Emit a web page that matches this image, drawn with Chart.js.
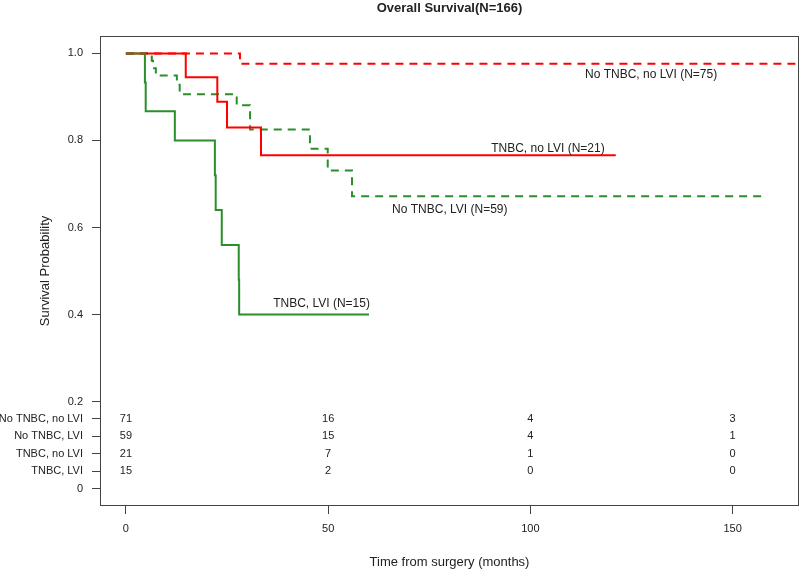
<!DOCTYPE html>
<html>
<head>
<meta charset="utf-8">
<script src="https://cdn.jsdelivr.net/npm/chart.js@4.4.0/dist/chart.umd.min.js"></script>
<style>
    html, body { margin: 0; padding: 0; background: #fff; }
</style>
</head>
<body>
<canvas id="km" width="800" height="570"></canvas>
<script>
// ==============================================================
// Kaplan-Meier curves (time in months, survival probability)
// ==============================================================
const tnbcLviTime = [0, 4.7, 4.9, 12.1, 22.0, 22.2, 23.7, 27.9, 28.0, 60.1];
const tnbcLviSurv = [1, 0.933, 0.867, 0.8, 0.72, 0.64, 0.56, 0.48, 0.40, 0.40];

const tnbcNoLviTime = [0, 14.8, 22.6, 25.0, 33.4, 121.1];
const tnbcNoLviSurv = [1, 0.945, 0.889, 0.83, 0.766, 0.766];

const noTnbcNoLviTime = [0, 28.2, 166.4];
const noTnbcNoLviSurv = [1, 0.976, 0.976];

const noTnbcLviTime = [0, 6.4, 6.7, 7.4, 12.6, 13.3, 27.4, 30.7, 45.5, 49.9, 55.9, 157.2];
const noTnbcLviSurv = [1, 0.983, 0.966, 0.949, 0.928, 0.906, 0.881, 0.825, 0.781, 0.731, 0.672, 0.672];

// number at risk table
const riskTimes = [0, 50, 100, 150];
const groupNames = ['No TNBC, no LVI', 'No TNBC, LVI', 'TNBC, no LVI', 'TNBC, LVI'];
const groupRows = [0.16, 0.12, 0.08, 0.04];
const riskNoTnbcNoLvi = [71, 16, 4, 3];
const riskNoTnbcLvi = [59, 15, 4, 1];
const riskTnbcNoLvi = [21, 7, 1, 0];
const riskTnbcLvi = [15, 2, 0, 0];

// axis ticks
const xTicks = [0, 50, 100, 150];
const yTicks = [0, 0.2, 0.4, 0.6, 0.8, 1.0];

const RED = '#ff0000';
const GREEN = '#2a8f2a';
const FONT = '"Liberation Sans", Arial, sans-serif';

function toPoints(t, s) {
    return t.map(function (v, i) { return {x: v, y: s[i]}; });
}

function rowLabel(value) {
    for (let i = 0; i < groupRows.length; i++) {
        if (Math.abs(groupRows[i] - value) < 1e-6) return groupNames[i];
    }
    return value === 0 ? '0' : value.toFixed(1);
}

// box, title, curve labels and risk numbers
const kmExtras = {
    id: 'kmExtras',
    afterDraw(chart) {
        const ctx = chart.ctx;
        const a = chart.chartArea;
        const x = chart.scales.x, y = chart.scales.y;
        ctx.save();
        ctx.strokeStyle = '#444';
        ctx.lineWidth = 1;
        ctx.strokeRect(a.left + 0.5, a.top + 0.5, a.right - a.left - 1, a.bottom - a.top - 1);

        ctx.fillStyle = '#222';
        ctx.textAlign = 'center';
        ctx.textBaseline = 'middle';
        ctx.font = 'bold 13px ' + FONT;
        ctx.fillText('Overall Survival(N=166)', (a.left + a.right) / 2, 8);

        ctx.font = '11px ' + FONT;
        const risk = [riskNoTnbcNoLvi, riskNoTnbcLvi, riskTnbcNoLvi, riskTnbcLvi];
        risk.forEach(function (row, i) {
            row.forEach(function (n, j) {
                ctx.fillText(String(n), x.getPixelForValue(riskTimes[j]), y.getPixelForValue(groupRows[i]));
            });
        });

        ctx.textAlign = 'left';
        ctx.font = '12px ' + FONT;
        const labels = [
            ['No TNBC, no LVI (N=75)', 113.5, 0.952],
            ['TNBC, no LVI (N=21)', 90.3, 0.782],
            ['No TNBC, LVI (N=59)', 65.8, 0.641],
            ['TNBC, LVI (N=15)', 36.4, 0.425]
        ];
        labels.forEach(function (l) {
            ctx.fillText(l[0], x.getPixelForValue(l[1]), y.getPixelForValue(l[2]));
        });
        ctx.restore();
    }
};

Chart.defaults.font.family = FONT;
Chart.defaults.color = '#222';

new Chart(document.getElementById('km').getContext('2d'), {
    type: 'line',
    data: {
        datasets: [{
            label: 'TNBC, LVI',
            data: toPoints(tnbcLviTime, tnbcLviSurv),
            borderColor: GREEN
        }, {
            label: 'TNBC, no LVI',
            data: toPoints(tnbcNoLviTime, tnbcNoLviSurv),
            borderColor: RED
        }, {
            label: 'No TNBC, no LVI',
            data: toPoints(noTnbcNoLviTime, noTnbcNoLviSurv),
            borderColor: RED,
            borderDash: [8, 6]
        }, {
            label: 'No TNBC, LVI',
            data: toPoints(noTnbcLviTime, noTnbcLviSurv),
            borderColor: GREEN,
            borderDash: [8, 6]
        }]
    },
    options: {
        responsive: false,
        animation: false,
        elements: {
            line: {borderWidth: 2, stepped: 'before', fill: false, tension: 0},
            point: {radius: 0, hoverRadius: 0}
        },
        layout: {
            padding: {top: 36, right: 1, left: 0, bottom: 0}
        },
        plugins: {
            legend: {display: false},
            tooltip: {enabled: false}
        },
        scales: {
            x: {
                type: 'linear',
                min: -6.4,
                max: 166.4,
                afterBuildTicks: function (scale) {
                    scale.ticks = xTicks.map(function (v) { return {value: v}; });
                },
                afterFit: function (scale) { scale.height = 64; },
                grid: {
                    drawOnChartArea: false,
                    drawTicks: true,
                    tickLength: 8,
                    color: '#444'
                },
                border: {display: false},
                ticks: {
                    font: {size: 11},
                    padding: 8,
                    maxRotation: 0,
                    autoSkip: false
                },
                title: {
                    display: true,
                    text: 'Time from surgery (months)',
                    font: {size: 13},
                    padding: {top: 0, bottom: 0}
                }
            },
            y: {
                type: 'linear',
                min: -0.04,
                max: 1.04,
                afterBuildTicks: function (scale) {
                    scale.ticks = yTicks.concat(groupRows).sort(function (p, q) { return p - q; })
                        .map(function (v) { return {value: v}; });
                },
                afterFit: function (scale) { scale.width = 100; },
                grid: {
                    drawOnChartArea: false,
                    drawTicks: true,
                    tickLength: 8,
                    color: '#444'
                },
                border: {display: false},
                ticks: {
                    font: {size: 11},
                    padding: 9,
                    autoSkip: false,
                    callback: function (value) { return rowLabel(value); }
                },
                title: {
                    display: true,
                    text: 'Survival Probability',
                    font: {size: 13},
                    padding: {top: 38, bottom: 0}
                }
            }
        }
    },
    plugins: [kmExtras]
});
</script>
</body>
</html>
